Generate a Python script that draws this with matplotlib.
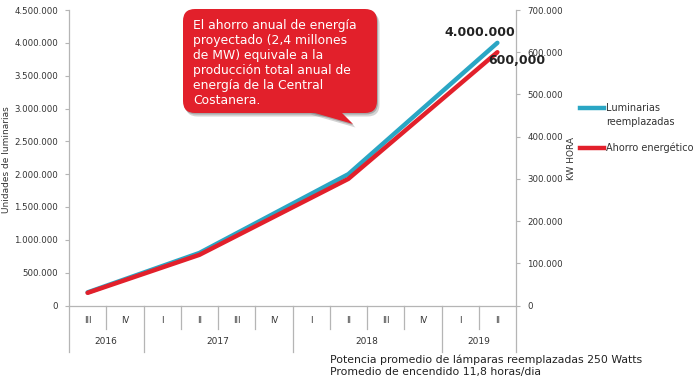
import matplotlib
matplotlib.use("Agg")
import matplotlib.pyplot as plt
from matplotlib.patches import FancyBboxPatch, Polygon
from matplotlib.lines import Line2D

# ---- data ----
quarters = ["III", "IV", "I", "II", "III", "IV", "I", "II", "III", "IV", "I", "II"]
years = ["2016", "2017", "2018", "2019"]
year_spans = [(0, 2), (2, 6), (6, 10), (10, 12)]
luminarias = [200000, 400000, 600000, 800000, 1100000, 1400000, 1700000, 2000000,
              2500000, 3000000, 3500000, 4000000]
ahorro = [30000, 60000, 90000, 120000, 165000, 210000, 255000, 300000,
          375000, 450000, 525000, 600000]
left_ticks = [0, 500000, 1000000, 1500000, 2000000, 2500000, 3000000, 3500000, 4000000, 4500000]
right_ticks = [0, 100000, 200000, 300000, 400000, 500000, 600000, 700000]
callout_text = ("El ahorro anual de energía\nproyectado (2,4 millones\nde MW) equivale a la\n"
                "producción total anual de\nenergía de la Central\nCostanera.")
note_text = "Potencia promedio de lámparas reemplazadas 250 Watts\nPromedio de encendido 11,8 horas/dia"

BLUE = "#2aa6c4"
RED = "#e2202b"
GRAY = "#b5b5b5"
TXT = "#333333"

W, H = 700, 388
fig = plt.figure(figsize=(W / 100, H / 100), dpi=100)
plt.rcParams['font.family'] = ['DejaVu Sans']


def px(x, y):
    return x / W, 1 - y / H


x0, x1, ytop, ybot = 69, 516, 10, 305.5
ax = fig.add_axes([x0 / W, 1 - ybot / H, (x1 - x0) / W, (ybot - ytop) / H])
ax2 = ax.twinx()

xs = [i + 0.5 for i in range(len(quarters))]
ax.plot(xs, luminarias, color=BLUE, lw=3.2, solid_capstyle='round', zorder=3)
ax2.plot(xs, ahorro, color=RED, lw=3.2, solid_capstyle='round', zorder=3)

ax.set_xlim(0, 12)
ax.set_ylim(0, 4500000)
ax2.set_ylim(0, 700000)

fmt = lambda v: f"{int(v):,}".replace(",", ".")
ax.set_yticks(left_ticks)
ax.set_yticklabels([fmt(v) for v in left_ticks])
ax2.set_yticks(right_ticks)
ax2.set_yticklabels([fmt(v) for v in right_ticks])
ax.set_xticks([])

for a in (ax, ax2):
    a.tick_params(axis='y', labelsize=6.2, colors=GRAY, labelcolor=TXT, length=3, width=0.8, pad=5)
    for s in a.spines.values():
        s.set_color(GRAY)
        s.set_linewidth(0.9)
    a.spines['top'].set_visible(False)
    a.patch.set_visible(False)
ax.spines['right'].set_visible(False)
ax2.spines['left'].set_visible(False)
ax2.spines['bottom'].set_visible(False)

# category separators
axh = ybot - ytop
tr = ax.get_xaxis_transform()
q_end = -(329 - ybot) / axh
y_end = -(352 - ybot) / axh
year_bounds = {0, 2, 6, 10, 12}
for b in range(0, 13):
    yend = y_end if b in year_bounds else q_end
    ax.plot([b, b], [0, yend], color=GRAY, lw=0.9, transform=tr, clip_on=False)
for i, q in enumerate(quarters):
    ax.text(i + 0.5, -(320.5 - ybot) / axh, q, transform=tr, ha='center', va='center',
            fontsize=6, color=TXT)
for yr, (a0, a1) in zip(years, year_spans):
    ax.text((a0 + a1) / 2, -(342 - ybot) / axh, yr, transform=tr, ha='center', va='center',
            fontsize=6.5, color=TXT)

# axis labels
fig.text(*px(7, 160), "Unidades de luminarias", rotation=90, ha='center', va='center',
         fontsize=6.5, color=TXT)
fig.text(*px(572, 158), "KW HORA", rotation=90, ha='center', va='center',
         fontsize=6.5, color=TXT)

# end annotations
fig.text(*px(480, 33), "4.000.000", ha='center', va='center', fontsize=9,
         fontweight='bold', color='#222222')
fig.text(*px(517, 60), "600,000", ha='center', va='center', fontsize=9,
         fontweight='bold', color='#222222')

# legend
fig.add_artist(Line2D([px(580, 0)[0], px(604, 0)[0]], [px(0, 108)[1]] * 2,
                      color=BLUE, lw=3.2, transform=fig.transFigure))
fig.text(*px(606, 115), "Luminarias\nreemplazadas", ha='left', va='center',
         fontsize=7, color=TXT, linespacing=1.5)
fig.add_artist(Line2D([px(580, 0)[0], px(604, 0)[0]], [px(0, 148)[1]] * 2,
                      color=RED, lw=3.2, transform=fig.transFigure))
fig.text(*px(606, 148), "Ahorro energético", ha='left', va='center',
         fontsize=7, color=TXT)

# callout
bx0, by0, bx1, by1 = 183, 9, 377, 113
r = 12
def callout(dx, dy, color, alpha, z):
    p0 = px(bx0 + r + dx, by1 - r + dy)
    box = FancyBboxPatch(p0, (bx1 - bx0 - 2 * r) / W, (by1 - by0 - 2 * r) / H,
                         boxstyle=f"round,pad={r / W}", transform=fig.transFigure,
                         facecolor=color, edgecolor='none', alpha=alpha, zorder=z,
                         mutation_aspect=W / H)
    fig.add_artist(box)
    tail = Polygon([px(308 + dx, by1 - 2 + dy), px(340 + dx, by1 - 2 + dy), px(353 + dx, 124 + dy)],
                   closed=True, transform=fig.transFigure, facecolor=color,
                   edgecolor='none', alpha=alpha, zorder=z)
    fig.add_artist(tail)

callout(2.5, 3.5, '#555555', 0.25, 4)
callout(1, 1.5, '#555555', 0.35, 4)
callout(0, 0, RED, 1.0, 5)
fig.text(*px(193, 63), callout_text, ha='left', va='center', fontsize=8.9,
         color='white', linespacing=1.2, zorder=6)

# note
fig.text(*px(330, 366), note_text, ha='left', va='center', fontsize=7.8,
         color='#222222', linespacing=1.25)

fig.savefig("out.png", dpi=100)
